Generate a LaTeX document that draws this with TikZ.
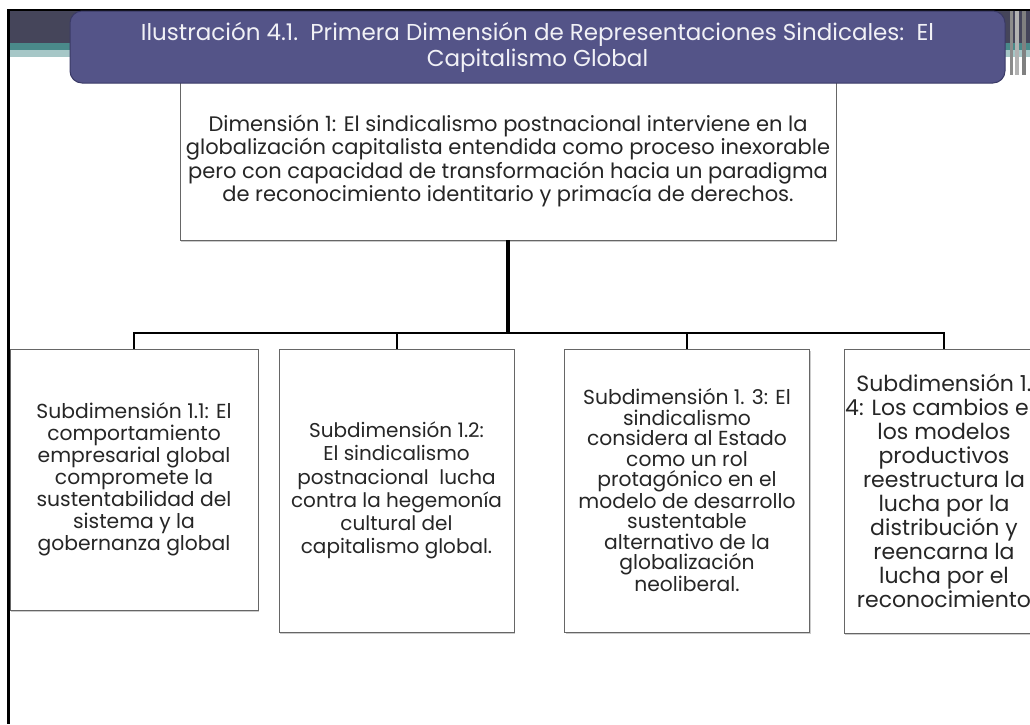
\documentclass[tikz,border=0pt]{standalone}
\usepackage{fontspec}
\setmainfont{Poppins}
\usetikzlibrary{shadows}
\definecolor{titlefill}{RGB}{84,84,136}
\definecolor{titleline}{RGB}{58,58,102}
\definecolor{bandgray}{RGB}{69,69,90}
\definecolor{bandteal}{RGB}{74,138,138}
\definecolor{bandlight}{RGB}{166,199,199}
\begin{document}
\begin{tikzpicture}[
    x=1pt, y=-1pt,
    every node/.style = {align=center, text=black!85, inner sep=1pt},
    box/.style = {draw=black!60, fill=white, line width=0.8pt,
        drop shadow={shadow xshift=1pt, shadow yshift=-2pt, fill=black!40, opacity=.5}},
    titlebox/.style = {draw=titleline, fill=titlefill, line width=1pt, rounded corners=12pt,
        text=white!92!titlefill, font=\fontsize{23}{26}\selectfont},
    trunk/.style = {draw=black, line width=4pt},
    branch/.style = {draw=black, line width=2pt}
    ]
    \useasboundingbox (0,0) rectangle (1030,724);
    \fill[bandgray] (8,10) rectangle (1030,43);
    \fill[bandteal] (8,43) rectangle (1030,50);
    \fill[bandlight] (8,50) rectangle (1030,57);
    \fill[black!45] (1010,10) rectangle (1013,75);
    \fill[black!30] (1015,10) rectangle (1019,75);
    \fill[black!50] (1022,10) rectangle (1026,75);
    \draw[line width=1.5pt] (7,10) -- (1030,10);
    \draw[line width=3pt] (8.5,9) -- (8.5,724);

    \node[box, minimum width=656pt, minimum height=158pt, font=\fontsize{21}{21}\selectfont] (dim) at (508,161)
        {Dimensión 1: El sindicalismo postnacional interviene en la\\
         globalización capitalista entendida como proceso inexorable\\
         pero con capacidad de transformación hacia un paradigma\\
         de reconocimiento identitario y primacía de derechos.};
    \node[titlebox, minimum width=935pt, minimum height=72pt] (title) at (537.5,47)
        {Ilustración 4.1.\ \ Primera Dimensión de Representaciones Sindicales:\ \ El\\
         Capitalismo Global};

    \node[box, minimum width=248pt, minimum height=261pt, font=\fontsize{20.3}{22}\selectfont] (sub1) at (134,479.5)
        {Subdimensión 1.1: El\\ comportamiento\\ empresarial global\\ compromete la\\
         sustentabilidad del\\ sistema y la\\ gobernanza global};
    \node[box, minimum width=235pt, minimum height=283pt, font=\fontsize{20}{23.3}\selectfont] (sub2) at (396.5,490.5)
        {Subdimensión 1.2:\\ El sindicalismo\\ postnacional\ \ lucha\\ contra la hegemonía\\
         cultural del\\ capitalismo global.};
    \node[box, minimum width=245pt, minimum height=283pt, font=\fontsize{20.3}{20.5}\selectfont] (sub3) at (687,490.5)
        {Subdimensión 1. 3: El\\ sindicalismo\\ considera al Estado\\ como un rol\\
         protagónico en el\\ modelo de desarrollo\\ sustentable\\ alternativo de la\\
         globalización\\ neoliberal.};
    \node[box, minimum width=196pt, minimum height=284pt, font=\fontsize{22}{24}\selectfont] (sub4) at (944,491)
        {Subdimensión 1.\\ 4: Los cambios en\\ los modelos\\ productivos\\ reestructura la\\
         lucha por la\\ distribución y\\ reencarna la\\ lucha por el\\ reconocimiento};

    \coordinate (bus) at (508,333);
    \draw[trunk] (dim.south) -- (bus);
    \draw[branch] (sub1.north) -- (sub1.north |- bus) -- (sub4.north |- bus) -- (sub4.north);
    \draw[branch] (sub2.north) -- (sub2.north |- bus);
    \draw[branch] (sub3.north) -- (sub3.north |- bus);
\end{tikzpicture}
\end{document}
